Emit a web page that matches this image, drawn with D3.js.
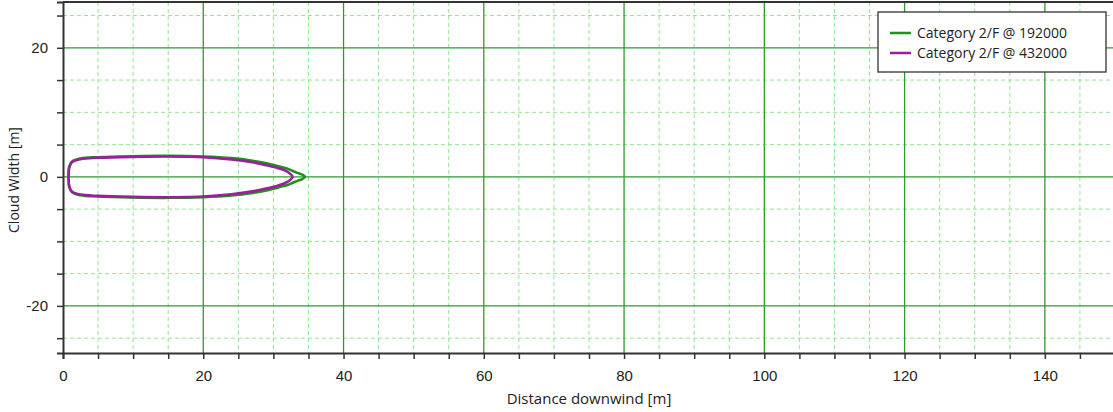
<!DOCTYPE html>
<html><head><meta charset="utf-8">
<script src="https://cdn.jsdelivr.net/npm/d3@7"></script>
<style>body{margin:0;background:#fff;}svg{display:block;font-family:"Open Sans","DejaVu Sans",sans-serif;}</style>
</head><body><svg id="c" width="1113" height="412"></svg>
<script>
const seriesNames = ["Category 2/F @ 192000", "Category 2/F @ 432000"];
const seriesColors = ["#1f8f1f", "#9a1f9a"];
// contour upper half: downwind distance and half-width (symmetric about 0)
const greenX = [0.8, 0.9, 1.3, 2.5, 5, 10, 15, 20, 24, 27, 29, 31, 32, 32.7, 33.4, 34.1, 34.5];
const greenHalf = [0, 1.6, 2.4, 2.85, 3.05, 3.2, 3.25, 3.15, 2.9, 2.5, 2.1, 1.55, 1.25, 0.95, 0.62, 0.35, 0];
const purpleX = [0.8, 0.9, 1.3, 2.5, 5, 10, 15, 20, 24, 27, 29, 30.5, 31.6, 32.3, 32.75];
const purpleHalf = [0, 1.5, 2.3, 2.75, 2.95, 3.1, 3.15, 3.05, 2.7, 2.25, 1.8, 1.4, 1.0, 0.55, 0];
const xDomain = [0, 150];
const yDomain = [-27.3, 27.1];
const xMajorTicks = [0, 20, 40, 60, 80, 100, 120, 140];
const yMajorTicks = [-20, 0, 20];
const xTitle = "Distance downwind [m]";
const yTitle = "Cloud Width [m]";

const svg = d3.select("#c");
const L = 63, T = 2, B = 353, R = 1115;
const x = d3.scaleLinear().domain(xDomain).range([L, R]);
const y = d3.scaleLinear().domain(yDomain).range([B, T]);
const xMinor = d3.range(0, 151, 5).filter(v => v % 20 !== 0);
const yMinor = d3.range(-25, 26, 5).filter(v => v % 20 !== 0);

const g = svg.append("g");
g.selectAll(".vmin").data(xMinor).join("line")
  .attr("x1", d => x(d)).attr("x2", d => x(d)).attr("y1", T).attr("y2", B)
  .attr("stroke", "#8fe88f").attr("stroke-width", 1).attr("stroke-dasharray", "4,3");
g.selectAll(".hmin").data(yMinor).join("line")
  .attr("y1", d => y(d)).attr("y2", d => y(d)).attr("x1", L).attr("x2", R)
  .attr("stroke", "#8fe88f").attr("stroke-width", 1).attr("stroke-dasharray", "4,3");
g.selectAll(".vmaj").data(xMajorTicks.filter(d => d > 0)).join("line")
  .attr("x1", d => x(d)).attr("x2", d => x(d)).attr("y1", T).attr("y2", B)
  .attr("stroke", "#2e9a2e").attr("stroke-width", 1.3);
g.selectAll(".hmaj").data(yMajorTicks).join("line")
  .attr("y1", d => y(d)).attr("y2", d => y(d)).attr("x1", L).attr("x2", R)
  .attr("stroke", "#2e9a2e").attr("stroke-width", 1.3);

const xAxis = d3.axisBottom(x).tickValues(d3.range(0, 151, 5)).tickSize(6)
  .tickFormat(d => d % 20 === 0 ? d : "");
const gx = svg.append("g").attr("transform", `translate(0,${B})`).call(xAxis);
gx.select(".domain").attr("stroke", "#333").attr("stroke-width", 2);
gx.selectAll(".tick line").attr("stroke", "#333").attr("stroke-width", 1.5);
gx.selectAll("text").attr("font-size", 15).attr("fill", "#222").attr("dy", "1.25em");

const yAxis = d3.axisLeft(y).tickValues(d3.range(-25, 26, 5)).tickSize(6)
  .tickFormat(d => d % 20 === 0 ? d : "");
const gy = svg.append("g").attr("transform", `translate(${L},0)`).call(yAxis);
gy.select(".domain").attr("stroke", "#333").attr("stroke-width", 2);
gy.selectAll(".tick line").attr("stroke", "#333").attr("stroke-width", 1.5);
gy.selectAll("text").attr("font-size", 15).attr("fill", "#222").attr("dx", "-0.4em");

svg.append("line").attr("x1", L).attr("x2", R).attr("y1", T).attr("y2", T)
  .attr("stroke", "#333").attr("stroke-width", 2);

function contour(xs, hs) {
  const upper = xs.map((v, i) => [v, hs[i]]);
  const lower = xs.slice().reverse().map((v, i) => [v, -hs[xs.length - 1 - i]]);
  return upper.concat(lower.slice(1, -1));
}
const line = d3.line().x(d => x(d[0])).y(d => y(d[1])).curve(d3.curveCatmullRomClosed.alpha(0.5));
svg.append("path").attr("d", line(contour(greenX, greenHalf)))
  .attr("fill", "none").attr("stroke", seriesColors[0]).attr("stroke-width", 2.6);
svg.append("path").attr("d", line(contour(purpleX, purpleHalf)))
  .attr("fill", "none").attr("stroke", seriesColors[1]).attr("stroke-width", 2.6);

svg.append("text").attr("x", 589).attr("y", 404).attr("text-anchor", "middle")
  .attr("font-size", 15).attr("fill", "#222").text(xTitle);
svg.append("text").attr("transform", "translate(19,180) rotate(-90)").attr("text-anchor", "middle")
  .attr("font-size", 14).attr("fill", "#222").text(yTitle);

const lg = svg.append("g").attr("transform", "translate(878,12)");
lg.append("rect").attr("width", 228).attr("height", 60).attr("fill", "#fff")
  .attr("stroke", "#333").attr("stroke-width", 1.3);
seriesNames.forEach((n, i) => {
  const yy = 21 + i * 20;
  lg.append("line").attr("x1", 12).attr("x2", 33).attr("y1", yy).attr("y2", yy)
    .attr("stroke", seriesColors[i]).attr("stroke-width", 2.5);
  lg.append("text").attr("x", 39).attr("y", yy).attr("dy", "0.35em")
    .attr("font-size", 14).attr("fill", "#222").text(n);
});
</script></body></html>
